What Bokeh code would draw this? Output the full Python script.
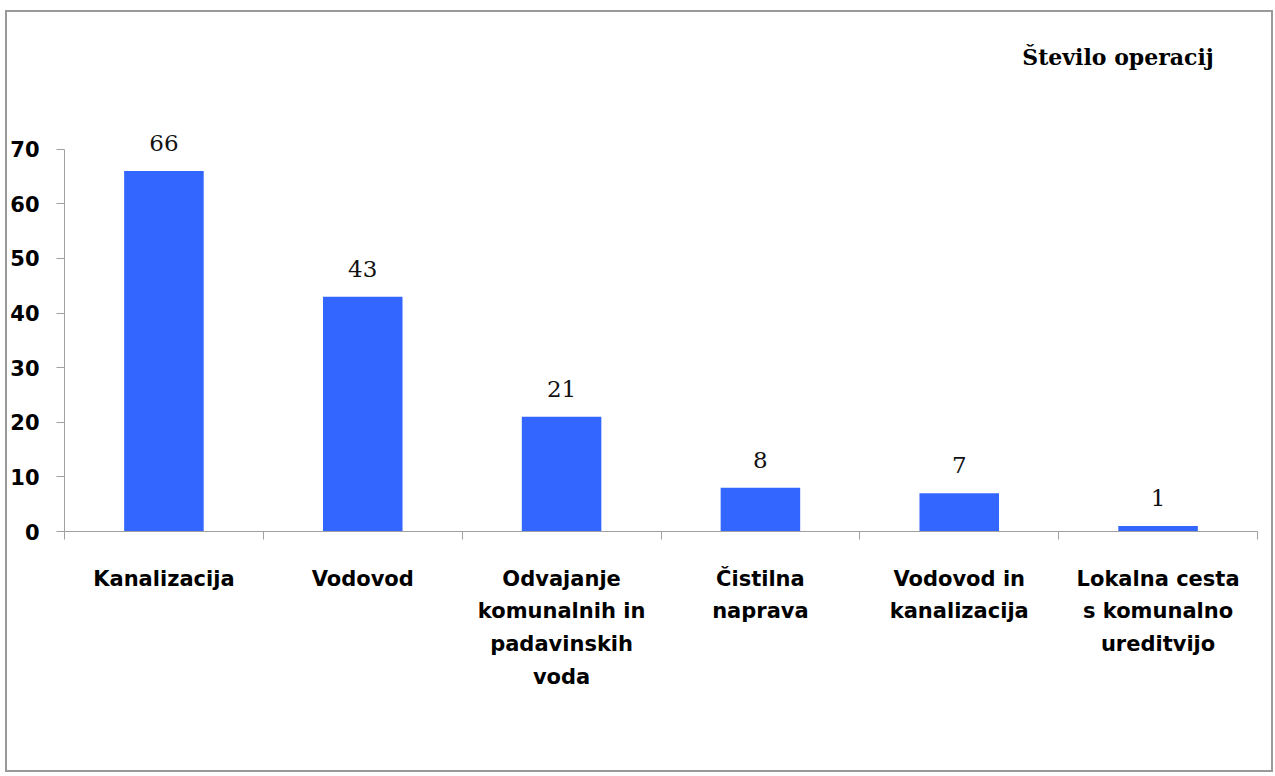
from bokeh.plotting import figure
from bokeh.models import ColumnDataSource, FixedTicker, Range1d, Label
from bokeh.core.properties import value
from bokeh.embed import file_html
from bokeh.resources import INLINE

categories = ["Kanalizacija", "Vodovod", "Odvajanje\nkomunalnih in\npadavinskih\nvoda",
              "Čistilna\nnaprava", "Vodovod in\nkanalizacija", "Lokalna cesta\ns komunalno\nureditvijo"]
values = [66, 43, 21, 8, 7, 1]
y_ticks = [0, 10, 20, 30, 40, 50, 60, 70]
title_text = "Število operacij"

xpos = [i + 0.5 for i in range(len(categories))]
src = ColumnDataSource(dict(x=xpos, top=values, label=[str(v) for v in values]))

p = figure(width=1268, height=762, output_backend="svg", toolbar_location=None,
           x_range=Range1d(0, len(categories)), y_range=Range1d(0, 93.2),
           min_border_left=48, min_border_right=18, min_border_top=10, min_border_bottom=243)
p.styles = {"border": "2px solid #999999", "margin-top": "10px", "margin-left": "5px"}
p.outline_line_color = None
p.xgrid.visible = False
p.ygrid.visible = False

p.vbar(x="x", top="top", width=0.4, source=src, fill_color="#3366FF", line_color=None)
p.text(x="x", y="top", text="label", source=src, text_align="center", text_baseline="bottom",
       y_offset=-20, text_font=value("DejaVu Serif"), text_font_size="23px", text_color="#111111")

# y axis
p.yaxis.ticker = FixedTicker(ticks=y_ticks)
p.yaxis.bounds = (0, 70)
p.yaxis.axis_line_color = "#A0A0A0"
p.yaxis.major_tick_line_color = "#A0A0A0"
p.yaxis.major_tick_out = 8
p.yaxis.major_tick_in = 0
p.yaxis.minor_tick_line_color = None
p.yaxis.major_label_standoff = 17
p.yaxis.major_label_text_font = "DejaVu Sans"
p.yaxis.major_label_text_font_style = "bold"
p.yaxis.major_label_text_font_size = "21px"
p.yaxis.major_label_text_color = "#000000"

# x axis
p.xaxis.ticker = FixedTicker(ticks=xpos, minor_ticks=list(range(len(categories) + 1)))
p.xaxis.major_label_overrides = {x: c for x, c in zip(xpos, categories)}
p.xaxis.axis_line_color = "#A0A0A0"
p.xaxis.major_tick_line_color = None
p.xaxis.major_tick_out = 0
p.xaxis.major_tick_in = 0
p.xaxis.minor_tick_line_color = "#A0A0A0"
p.xaxis.minor_tick_out = 8
p.xaxis.minor_tick_in = 0
p.xaxis.major_label_standoff = 27
p.xaxis.major_label_text_font = "DejaVu Sans"
p.xaxis.major_label_text_font_style = "bold"
p.xaxis.major_label_text_font_size = "21px"
p.xaxis.major_label_text_color = "#000000"
p.xaxis.major_label_text_line_height = 1.37

p.add_layout(Label(x=5.78, y=86.9, text=title_text, text_align="right", text_baseline="alphabetic",
                   text_font="DejaVu Serif", text_font_style="bold", text_font_size="22px",
                   text_color="#000000"))

open("out.html", "w").write(file_html(p, INLINE))
